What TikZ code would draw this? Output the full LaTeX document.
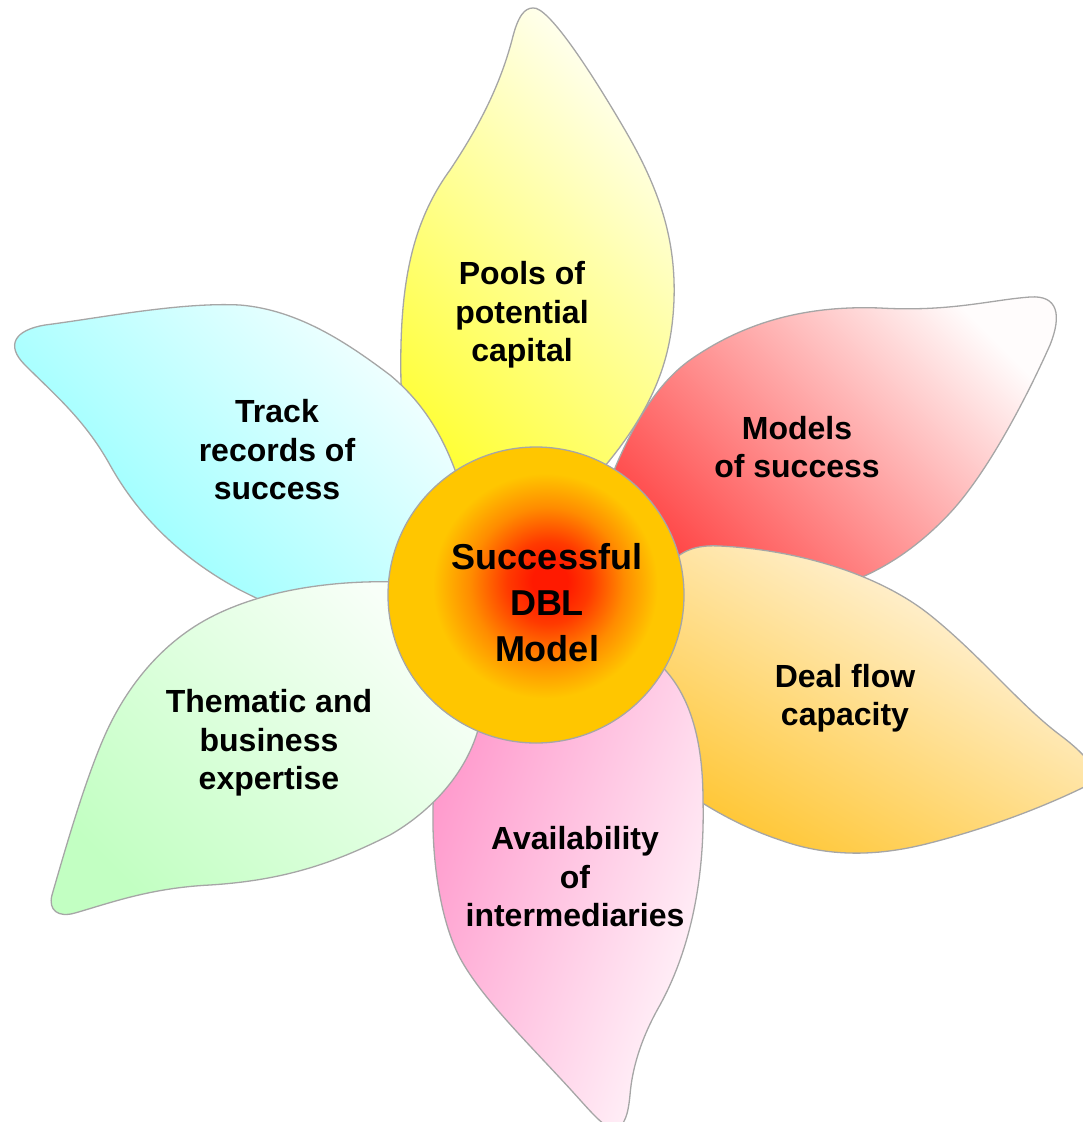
\documentclass[tikz,border=0pt]{standalone}
\usepackage{fontspec}
\setmainfont{Liberation Sans}
\definecolor{petalline}{HTML}{A6A6A6}
\definecolor{ylA}{HTML}{FFFF33}
\definecolor{ylB}{HTML}{FFFFF2}
\definecolor{rdA}{HTML}{FF4747}
\definecolor{rdB}{HTML}{FFFCFC}
\definecolor{orA}{HTML}{FFC633}
\definecolor{orB}{HTML}{FFF8EE}
\definecolor{pkA}{HTML}{FF99CC}
\definecolor{pkB}{HTML}{FFF7FB}
\definecolor{gnA}{HTML}{C2FFC2}
\definecolor{gnB}{HTML}{F8FFF8}
\definecolor{cyA}{HTML}{8CFFFF}
\definecolor{cyB}{HTML}{F7FFFF}
\definecolor{sunred}{HTML}{FF1A00}
\definecolor{sunred2}{HTML}{FF3A00}
\definecolor{sunorange}{HTML}{FF8C00}
\definecolor{sunyellow}{HTML}{FFC600}
\pgfdeclareradialshading{sun}{\pgfpoint{2.5bp}{2.5bp}}{color(0bp)=(sunred); color(3bp)=(sunred); color(7bp)=(sunred2); color(13bp)=(sunorange); color(19bp)=(sunyellow); color(25bp)=(sunyellow); color(50bp)=(sunyellow)}
\begin{document}
\begin{tikzpicture}[x=1pt,y=-1pt,
  petal/.style={draw=petalline, line width=1.3pt},
  lbl/.style={font=\fontsize{32}{38.5}\selectfont\bfseries, align=center, text=black, inner sep=0pt},
  corelbl/.style={font=\fontsize{36}{46}\selectfont\bfseries, align=center, text=black, inner sep=0pt}
]
\useasboundingbox (0,0) rectangle (1083,1122);
\clip (0,0) rectangle (1083,1122);

% red petal (upper right)
\shadedraw[petal, left color=rdA, right color=rdB, shading angle=135]
  (610,480) .. controls (630,430) and (655,385) .. (690,360)
  .. controls (740,325) and (800,305) .. (880,308)
  .. controls (950,312) and (990,300) .. (1030,297)
  .. controls (1058,295) and (1062,315) .. (1050,345)
  .. controls (1030,390) and (990,470) .. (950,513)
  .. controls (920,545) and (890,565) .. (860,578)
  .. controls (800,600) and (720,600) .. (650,590) -- cycle;

% yellow petal (top)
\shadedraw[petal, left color=ylA, right color=ylB, shading angle=135]
  (533,8) .. controls (548,6) and (590,70) .. (625,130)
  .. controls (660,190) and (676,240) .. (674,300)
  .. controls (672,350) and (660,400) .. (605,466)
  -- (560,540) -- (470,520) -- (415,440) -- (401,383)
  .. controls (399,290) and (410,225) .. (450,170)
  .. controls (480,125) and (500,85) .. (512,40)
  .. controls (518,15) and (525,8) .. (533,8) -- cycle;

% cyan petal (upper left)
\shadedraw[petal, left color=cyA, right color=cyB, shading angle=135]
  (480,560) -- (455,470) .. controls (440,430) and (420,400) .. (390,375)
  .. controls (350,345) and (300,310) .. (240,305)
  .. controls (180,302) and (100,318) .. (45,325)
  .. controls (15,330) and (5,345) .. (25,365)
  .. controls (55,395) and (85,420) .. (110,465)
  .. controls (135,510) and (175,555) .. (240,590)
  .. controls (260,600) and (280,610) .. (300,615) -- cycle;

% orange petal (lower right)
\shadedraw[petal, left color=orA, right color=orB, shading angle=150]
  (640,600) -- (670,563) .. controls (685,548) and (700,545) .. (720,546)
  .. controls (800,550) and (880,575) .. (930,615)
  .. controls (980,655) and (1020,705) .. (1060,735)
  .. controls (1080,750) and (1095,765) .. (1098,780)
  .. controls (1060,800) and (1000,825) .. (930,843)
  .. controls (880,856) and (830,858) .. (780,840)
  .. controls (750,830) and (720,815) .. (690,795)
  -- (660,720) -- cycle;

% pink petal (bottom)
\shadedraw[petal, left color=pkA, right color=pkB, shading angle=70]
  (655,660) .. controls (690,690) and (703,740) .. (703,800)
  .. controls (705,880) and (690,950) .. (660,1005)
  .. controls (640,1040) and (632,1070) .. (630,1095)
  .. controls (628,1115) and (625,1125) .. (615,1130)
  .. controls (600,1125) and (590,1110) .. (560,1078)
  .. controls (520,1035) and (480,995) .. (460,958)
  .. controls (440,920) and (432,860) .. (433,810)
  .. controls (433,790) and (436,775) .. (445,755)
  -- (520,700) -- cycle;

% green petal (lower left)
\shadedraw[petal, left color=gnA, right color=gnB, shading angle=135]
  (470,620) -- (400,582) .. controls (340,580) and (270,588) .. (215,615)
  .. controls (160,642) and (125,690) .. (105,735)
  .. controls (85,780) and (65,850) .. (52,895)
  .. controls (48,910) and (58,918) .. (75,913)
  .. controls (110,903) and (150,888) .. (210,885)
  .. controls (290,880) and (340,860) .. (390,835)
  .. controls (430,812) and (465,775) .. (478,730) -- cycle;

% centre disc
\shadedraw[petal, shading=sun] (536,595) circle[radius=148];

\node[corelbl] (core) at (547,603) {Successful\\DBL\\Model};
\node[lbl] (pools) at (522,315) {Pools of\\potential\\capital};
\node[lbl] (models) at (797,447) {Models\\of success};
\node[lbl] (deal) at (845,698) {Deal flow\\capacity};
\node[lbl] (avail) at (575,877) {Availability\\of\\intermediaries};
\node[lbl] (thematic) at (269,743) {Thematic and\\business\\expertise};
\node[lbl] (track) at (277,450) {Track\\records of\\success};
\end{tikzpicture}
\end{document}
